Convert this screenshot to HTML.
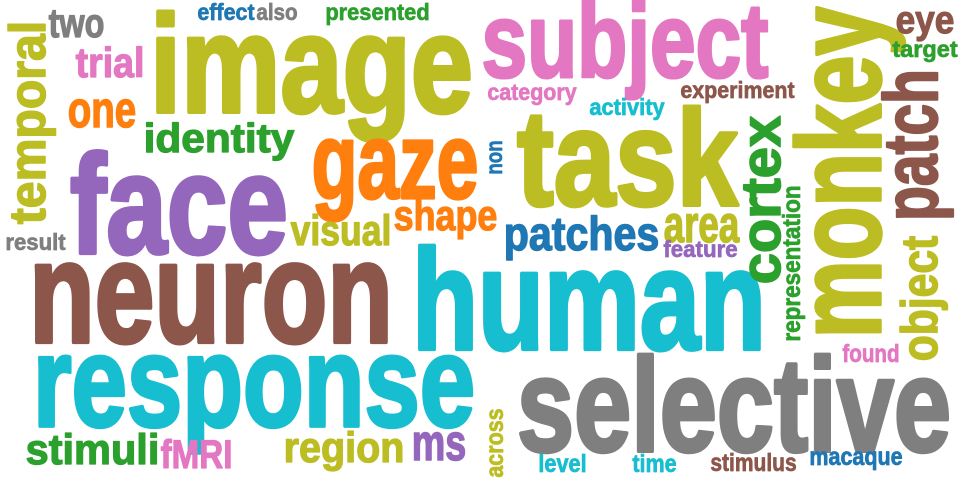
<!DOCTYPE html>
<html>
<head>
<meta charset="utf-8">
<style>
  html, body { margin: 0; padding: 0; background: #ffffff; }
  svg { display: block; }
  text { font-family: "Liberation Sans Narrow", "Liberation Sans", sans-serif; font-weight: bold; }
</style>
</head>
<body>
<svg id="cloud" width="960" height="480" viewBox="0 0 960 480" xmlns="http://www.w3.org/2000/svg">
  <rect x="0" y="0" width="960" height="480" fill="#ffffff"></rect>
</svg>
<script>
// word data: text, colour key, font size, x, baseline, text length, rotated flag
const words = ["face","neuron","human","response","selective","image","subject","task","gaze","monkey","patch","cortex","object","temporal","representation","non","across","two","effect","also","presented","eye","target","trial","one","identity","category","activity","experiment","shape","visual","patches","area","feature","result","stimuli","fMRI","region","ms","level","time","stimulus","macaque","found"];
const colorKeys = ["purple","brown","cyan","cyan","gray","olive","pink","olive","orange","olive","brown","green","olive","olive","green","blue","olive","gray","blue","gray","green","brown","green","pink","orange","green","pink","cyan","brown","orange","olive","blue","olive","purple","gray","green","pink","olive","purple","cyan","cyan","brown","blue","pink"];
const sizes = [148,152,150,136,140,146,111,143,113,125,80,59,54,54,26,24,26,43,24,24,24,41,24,44,54,43,24,24,24,45,45,50,55,24,24,45,42,45,54,26,26,26,26,26];
const xs = [68,27,410,31,515,148,480,515,310,880,937,780,937,45,800,502,503,48,197,256,325,895,892,75,67,143,487,589,680,393,290,503,663,663,5,25,160,283,411,538,632,710,809,842];
const ys = [253,342,349,426,451,112,77,205,198,340,222,285,362,225,342,175,478,37,20,20,20,33,57,77,127,152,100,115,98,230,245,250,242,257,250,464,468,462,460,472,472,471,465,362];
const lengths = [222,368,358,446,438,327,290,225,170,335,154,170,127,205,157,35,70,57,58,42,105,60,66,70,70,152,90,76,115,105,102,157,77,75,61,135,73,122,56,49,45,87,94,58];
const rotated = [0,0,0,0,0,0,0,0,0,1,1,1,1,1,1,1,1,0,0,0,0,0,0,0,0,0,0,0,0,0,0,0,0,0,0,0,0,0,0,0,0,0,0,0];
const palette = {blue:"#1f77b4",orange:"#ff7f0e",green:"#2ca02c",purple:"#9467bd",brown:"#8c564b",pink:"#e377c2",gray:"#7f7f7f",olive:"#bcbd22",cyan:"#17becf"};

const svg = document.getElementById('cloud');
const NS = "http://www.w3.org/2000/svg";
for (let i = 0; i < words.length; i++) {
  const t = document.createElementNS(NS, 'text');
  
  
  const fs = sizes[i] * 0.95;
  const sw = sizes[i] * 0.028;
  t.setAttribute('font-size', fs);
  t.setAttribute('fill', palette[colorKeys[i]]);
  t.setAttribute('stroke', palette[colorKeys[i]]);
  t.setAttribute('stroke-width', sw);
  t.setAttribute('stroke-linejoin', 'round');
  t.setAttribute('textLength', lengths[i] - sw);
  t.setAttribute('lengthAdjust', 'spacingAndGlyphs');
  if (rotated[i]) {
    t.setAttribute('x', sw / 2);
    t.setAttribute('y', 0);
    t.setAttribute('transform', 'translate(' + xs[i] + ',' + ys[i] + ') rotate(-90)');
  } else {
    t.setAttribute('x', xs[i] + sw / 2);
    t.setAttribute('y', ys[i]);
  }
  t.textContent = words[i];
  svg.appendChild(t);
}
</script>
</body>
</html>
